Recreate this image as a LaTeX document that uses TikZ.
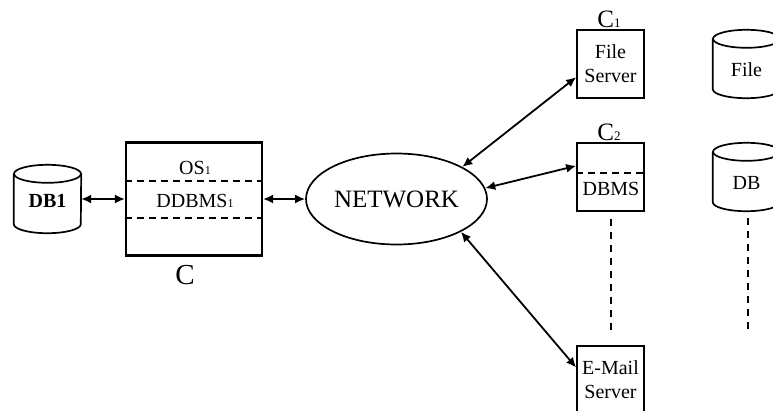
\documentclass[tikz,border=0pt]{standalone}
\usepackage{fontspec}
\setmainfont{Liberation Serif}
\usetikzlibrary{arrows.meta,shapes.geometric,calc}
\tikzset{
  x=1pt,y=-1pt,
  sz/.style={font=\fontsize{#1}{#1}\selectfont},
  ln/.style={line width=1.7pt},
  server/.style={draw,ln,minimum width=67pt,minimum height=68pt,inner sep=0pt,align=center,font=\fontsize{20}{24}\selectfont},
  mainbox/.style={draw,line width=2.2pt,minimum width=136pt,minimum height=113pt,inner sep=0pt},
  net/.style={draw,ln,ellipse,minimum width=181pt,minimum height=91pt,inner sep=0pt},
  storebox/.style={minimum width=67pt,minimum height=68pt,inner sep=0pt},
  label/.style={inner sep=0pt,sz=20},
  link/.style={line width=1.8pt,{Latex[length=10pt,width=9pt]}-{Latex[length=10pt,width=9pt]}},
  hdiv/.style={line width=1.5pt,dash pattern=on 7pt off 5pt},
  vdiv/.style={line width=1.6pt,dash pattern=on 7pt off 6pt},
}
\newcommand{\cyl}[3]{%
  \node[storebox] (#1) at (#2,#3) {};
  \draw[ln] ([yshift=-9pt]#1.north) ellipse [x radius=33.5pt,y radius=9pt];
  \draw[ln] ([yshift=-9pt]#1.north west) -- ([yshift=9pt]#1.south west)
     arc [start angle=180,end angle=360,x radius=33.5pt,y radius=9pt]
     -- ([yshift=-9pt]#1.north east);
}
\begin{document}
\begin{tikzpicture}
\clip (0,0) rectangle (773,410);
% left part
\cyl{db1}{47.5}{199}
\node[label,font=\fontsize{20}{20}\selectfont\bfseries] (db1t) at (47.5,201) {DB1};
\node[mainbox] (c) at (194,199) {};
\node[label] (os) at (195,168) {OS\fontsize{12}{12}\selectfont 1};
\node[label] (ddbms) at (195,201) {DDBMS\fontsize{12}{12}\selectfont 1};
\node[inner sep=0pt,sz=29] (clabel) at (185,275) {C};
\draw[hdiv] ($(c.north west)!0.345!(c.south west)$) -- ($(c.north east)!0.345!(c.south east)$);
\draw[hdiv] ($(c.north west)!0.664!(c.south west)$) -- ($(c.north east)!0.664!(c.south east)$);
% network
\node[net,sz=25] (network) at (396.5,199) {NETWORK};
% right servers
\node[server] (fs) at (610.5,64) {File\\Server};
\node[inner sep=0pt,sz=25] (c1) at (609,19) {C\fontsize{13}{13}\selectfont 1};
\node[server] (dbms) at (610.5,177) {};
\node[inner sep=0pt,sz=25] (c2) at (609,132) {C\fontsize{13}{13}\selectfont 2};
\node[label] (dbmst) at (611,189) {DBMS};
\draw[hdiv] ($(dbms.north west)!0.44!(dbms.south west)$) -- ($(dbms.north east)!0.44!(dbms.south east)$);
\node[server] (mail) at (610.5,380) {E-Mail\\Server};
% stores
\cyl{file}{746.5}{64}
\node[label] (filet) at (746.5,70) {File};
\cyl{db}{746.5}{177}
\node[label] (dbt) at (746.5,183) {DB};
% connectors
\draw[link] (db1.east |- c.west) -- (c.west);
\draw[link] (c.east) -- (network.west);
\draw[link] (network.26) -- (fs.201);
\draw[link] (network.7) -- (dbms.162);
\draw[link] (network.-27) -- (mail.160);
\draw[vdiv,shorten <=7pt,shorten >=13pt] ([xshift=0.6pt]dbms.south) -- ([xshift=0.6pt]mail.north);
\coordinate (dbA) at (748,218);
\coordinate (dbB) at (748,333);
\draw[vdiv] (dbA) -- (dbB);
\end{tikzpicture}
\end{document}
